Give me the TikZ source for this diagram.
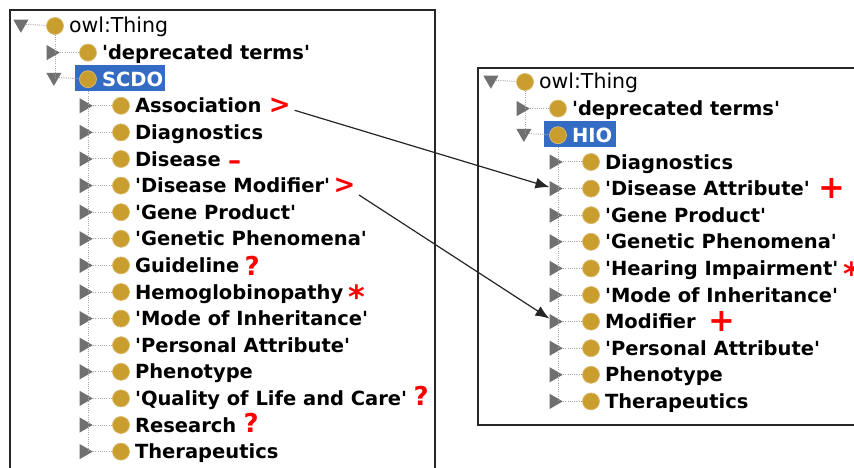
\documentclass[tikz,border=0pt]{standalone}
\usepackage{fontspec}
\setmainfont{DejaVu Sans}[Ligatures=TeXOff]
\usetikzlibrary{positioning,shapes.geometric,arrows.meta}
\definecolor{classgold}{RGB}{201,158,46}
\definecolor{selblue}{RGB}{52,108,196}
\definecolor{togglegray}{RGB}{112,112,112}

\begin{document}
\begin{tikzpicture}[x=1pt, y=-1pt, node distance=5pt]
  \tikzset{
    cls/.style={circle, fill=classgold, draw=classgold!70!white, line width=0.7pt, minimum size=17pt, inner sep=0pt},
    leaf/.style={regular polygon, regular polygon sides=3, regular polygon rotate=-90, fill=togglegray, minimum size=17.5pt, inner sep=0pt},
    opened/.style={leaf, regular polygon rotate=180, yshift=2pt},
    term/.style={font=\bfseries\fontsize{19.5}{21}\selectfont, inner sep=0pt, text height=14pt, text depth=0pt},
    root/.style={term, font=\mdseries\fontsize{20.5}{22}\selectfont},
    sel/.style={fill=selblue, inner sep=0pt},
    flag/.style={font=\bfseries\fontsize{26}{26}\selectfont, text=red, inner sep=0pt},
    bigflag/.style={flag, font=\bfseries\fontsize{32}{32}\selectfont},
    treeline/.style={draw=togglegray!60, line width=1pt, dash pattern=on 1pt off 1.2pt},
    link/.style={draw=black!85, line width=1.2pt, -{Latex[length=14pt,width=11pt]}, shorten <=4pt},
    frame/.style={draw=black!85, line width=1.3pt}
  }
  \useasboundingbox (0,0) rectangle (854,468);
  \clip (0,0) rectangle (854,468);
  \fill[white] (0,0) rectangle (854,468);
  \draw[frame] (10,10) rectangle (435,480);
  \draw[frame] (478,68) rectangle (870,425);

  % SCDO hierarchy
  \node[cls] (thing) at (55,26) {};
  \node[opened, left=20pt of thing] (thing-t) {};
  \node[root, right=5pt of thing] (thing-x) {owl:Thing};
  \node[cls] (deprec) at (88,52.6) {};
  \node[leaf, left=19pt of deprec] (deprec-t) {};
  \node[term, right=5pt of deprec] (deprec-x) {'deprecated terms'};
  \node[sel, minimum width=90pt, minimum height=26pt] (scdo-hl) at (120,78) {};
  \node[cls] (scdo) at (88,79.2) {};
  \node[opened, left=20pt of scdo] (scdo-t) {};
  \node[term, text=white, right=5pt of scdo] (scdo-x) {SCDO};
  \foreach \n/\txt [count=\i] in {assoc/Association, diag/Diagnostics, disease/Disease, dismod/'Disease Modifier', gene/'Gene Product', genet/'Genetic Phenomena', guide/Guideline, hemo/Hemoglobinopathy, mode/'Mode of Inheritance', pers/'Personal Attribute', pheno/Phenotype, qual/'Quality of Life and Care', research/Research, thera/Therapeutics} {
    \node[cls] (\n) at (121,79.2+26.6*\i) {};
    \node[leaf, left=19pt of \n] (\n-t) {};
    \node[term, right=5pt of \n] (\n-x) {\txt};
    \draw[treeline] (\n-t) -- (\n);
  }
  \draw[treeline] (thing-t) -- (thing);
  \draw[treeline] (deprec-t) -- (deprec);
  \draw[treeline] (scdo-t) -- (scdo);
  \draw[treeline] (thing) -- (thing |- scdo-t);
  \draw[treeline] (scdo-hl.south -| scdo) -- (scdo |- thera-t);

  % changes
  \node[flag, right=7pt of assoc-x] (assoc-f) {>};
  \node[flag, right=7pt of disease-x, yshift=-6pt] (disease-f) {–};
  \node[flag, right=3pt of dismod-x] (dismod-f) {>};
  \node[flag, right=5pt of guide-x] (guide-f) {?};
  \node[bigflag, right=5pt of hemo-x, yshift=-5pt] (hemo-f) {*};
  \node[flag, right=6pt of qual-x, yshift=3pt] (qual-f) {?};
  \node[flag, right=7pt of research-x, yshift=2pt] (research-f) {?};

  % HIO hierarchy
  \node[cls] (hthing) at (525,82) {};
  \node[opened, left=20pt of hthing] (hthing-t) {};
  \node[root, right=5pt of hthing] (hthing-x) {owl:Thing};
  \node[cls] (hdeprec) at (558,108.6) {};
  \node[leaf, left=19pt of hdeprec] (hdeprec-t) {};
  \node[term, right=5pt of hdeprec] (hdeprec-x) {'deprecated terms'};
  \node[sel, minimum width=72pt, minimum height=26pt] (hio-hl) at (580,134) {};
  \node[cls] (hio) at (558,135.2) {};
  \node[opened, left=20pt of hio] (hio-t) {};
  \node[term, text=white, right=5pt of hio] (hio-x) {HIO};
  \foreach \n/\txt [count=\i] in {hdiag/Diagnostics, hdisattr/'Disease Attribute', hgene/'Gene Product', hgenet/'Genetic Phenomena', hhear/'Hearing Impairment', hmode/'Mode of Inheritance', hmodif/Modifier, hpers/'Personal Attribute', hpheno/Phenotype, hthera/Therapeutics} {
    \node[cls] (\n) at (591,135.4+26.6*\i) {};
    \node[leaf, left=19pt of \n] (\n-t) {};
    \node[term, right=5pt of \n] (\n-x) {\txt};
    \draw[treeline] (\n-t) -- (\n);
  }
  \draw[treeline] (hthing-t) -- (hthing);
  \draw[treeline] (hdeprec-t) -- (hdeprec);
  \draw[treeline] (hio-t) -- (hio);
  \draw[treeline] (hthing) -- (hthing |- hio-t);
  \draw[treeline] (hio-hl.south -| hio) -- (hio |- hthera-t);

  \node[bigflag, right=8pt of hdisattr-x] (hdisattr-f) {+};
  \node[bigflag, right=5pt of hhear-x, yshift=-5pt] (hhear-f) {*};
  \node[bigflag, right=12pt of hmodif-x] (hmodif-f) {+};

  \draw[link] (assoc-f) -- (hdisattr-t);
  \draw[link] (dismod-f) -- (hmodif-t);
\end{tikzpicture}
\end{document}
